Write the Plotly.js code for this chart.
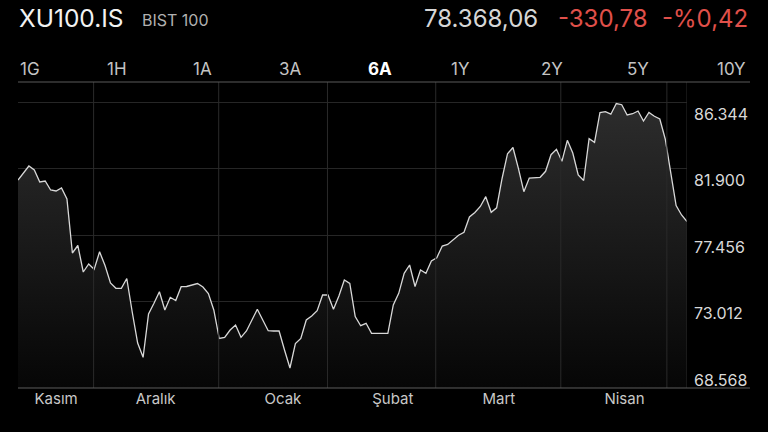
<!DOCTYPE html>
<html>
<head>
<meta charset="utf-8">
<script src="https://cdn.plot.ly/plotly-3.0.1.min.js"></script>
<style>
  html, body { margin:0; padding:0; background:#000; }
  #chart { width:768px; height:432px; }
</style>
</head>
<body>
<div id="chart"></div>
<script>
// ---- data (BIST 100 daily closes, ~6 months) ----
const closes = [
  81152, 81639, 82087, 81820, 81018, 81085, 80483, 80416, 80617, 79882,
  76273, 76774, 75003, 75538, 75184, 76353, 75438, 74268, 73914, 73914,
  74569, 72330, 70258, 69303, 72196, 72911, 73687, 72464, 73312, 73099,
  74021, 74034, 74154, 74235, 74001, 73566, 72464, 70559, 70639, 71127,
  71461, 70639, 71060, 71795, 72511, 71795, 71080, 71060, 71060, 69790,
  68588, 70225, 70559, 71795, 72063, 72417, 73466, 73466, 72511, 73399,
  74469, 74235, 72029, 71414, 71575, 70907, 70907, 70947, 70907, 72798,
  73580, 74916, 75471, 74034, 75137, 74916, 75738, 75959, 76741, 76841,
  77142, 77456, 77657, 78679, 78980, 79381, 80036, 78993, 79294, 81252,
  82909, 83324, 81934, 80370, 81285, 81319, 81332, 81733, 82842, 83203,
  82401, 83805, 82956, 81486, 81118, 83912, 83671, 85663, 85716, 85549,
  86264, 86184, 85496, 85582, 85763, 85095, 85663, 85409, 85228, 83892,
  81553, 79447, 78813, 78368
];
const monthLabels = ['Kasım', 'Aralık', 'Ocak', 'Şubat', 'Mart', 'Nisan'];
const monthLabelIdx = [7, 25.3, 48.7, 68.9, 88.4, 111.5];   // trading-day index of each month label
const monthStartIdx = [13.9, 36.9, 56.9, 76.8, 99.8, 119.3]; // first trading day of each month
const yTickVals = [68568, 73012, 77456, 81900, 86344];
const yTickText = ['68.568', '73.012', '77.456', '81.900', '86.344'];
const symbol = 'XU100.IS';
const indexName = 'BIST 100';
const lastPrice = '78.368,06';
const change = '-330,78';
const changePct = '-%0,42';
const periods = ['1G', '1H', '1A', '3A', '6A', '1Y', '2Y', '5Y', '10Y'];
const activePeriod = '6A';

// ---- layout helpers (pixel -> paper) ----
const W = 768, H = 432;
const M = { l: 18, r: 81, t: 82, b: 44 };
const PW = W - M.l - M.r, PH = H - M.t - M.b;
const px = x => (x - M.l) / PW;
const py = y => (H - M.b - y) / PH;

const idx = closes.map((_, i) => i);

const FONT = 'Inter, "Noto Sans", Roboto, sans-serif';

const trace = {
  x: idx, y: closes, type: 'scatter', mode: 'lines',
  line: { color: '#d8d8d8', width: 1.3 },
  fill: 'tozeroy',
  fillgradient: { type: 'vertical', start: 67251, stop: 87000,
                  colorscale: [[0, '#060606'], [1, '#2e2e2e']] },
  hoverinfo: 'skip'
};

const shapes = [];
// vertical month separators
monthStartIdx.concat([closes.length - 1]).forEach(v => {
  shapes.push({ type: 'line', xref: 'x', yref: 'paper', x0: v, x1: v, y0: 0, y1: 1,
                line: { color: '#2a2a2a', width: 1 } });
});
// baseline and tab underline
shapes.push({ type: 'line', xref: 'paper', yref: 'paper', x0: 0, x1: px(750), y0: 0, y1: 0,
              line: { color: '#5c5c5c', width: 1.2 } });
shapes.push({ type: 'line', xref: 'paper', yref: 'paper', x0: 0, x1: px(750), y0: 1, y1: 1,
              line: { color: '#5a5a5a', width: 1.2 } });

const annotations = [];
function txt(text, x, y, size, color, anchor, weight) {
  annotations.push({ text, xref: 'paper', yref: 'paper', x: px(x), y: py(y),
    xanchor: anchor, yanchor: 'middle', showarrow: false,
    font: { family: FONT, size, color, weight: weight || 400 } });
}
txt(symbol, 17, 18, 24.5, '#f2f2f2', 'left');
txt(indexName, 140, 20, 16, '#b0b0b0', 'left');
txt(lastPrice, 540, 18, 24, '#d6d6d6', 'right');
txt(change, 650, 18, 24, '#e0504a', 'right');
txt(changePct, 750, 18, 24, '#e0504a', 'right');

const tabCenters = [30, 116.5, 202.5, 290.5, 379.5, 460.5, 551.5, 637.5, 731.5];
periods.forEach((p, i) => {
  const active = p === activePeriod;
  txt(p, tabCenters[i], 69, 17, active ? '#ffffff' : '#c4c4c4', 'center', active ? 700 : 400);
});

const layout = {
  width: W, height: H,
  paper_bgcolor: '#000', plot_bgcolor: '#000',
  margin: M, showlegend: false,
  xaxis: { range: [0, closes.length - 1], showgrid: false, zeroline: false, showline: false,
           tickvals: monthLabelIdx, ticktext: monthLabels, ticks: '',
           tickfont: { family: FONT, size: 15, color: '#c8c8c8' }, fixedrange: true },
  yaxis: { range: [67251, 87701], side: 'right', tickvals: yTickVals, ticktext: yTickText,
           showgrid: true, gridcolor: '#262626', gridwidth: 1, zeroline: false, showline: false,
           ticks: '', ticklabelshift: 12, ticklabelstandoff: 6,
           tickfont: { family: FONT, size: 16, color: '#d8d8d8' }, fixedrange: true },
  shapes, annotations
};

Plotly.newPlot('chart', [trace], layout, { staticPlot: true, displayModeBar: false });
</script>
</body>
</html>
